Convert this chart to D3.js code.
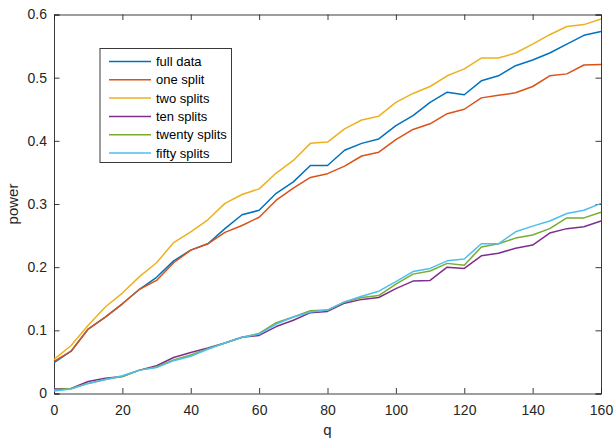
<!DOCTYPE html>
<html>
<head>
<meta charset="utf-8">
<script src="https://cdn.jsdelivr.net/npm/d3@7"></script>
<style>
  html, body { margin: 0; padding: 0; background: #fff; }
  svg { display: block; font-family: "Liberation Sans", Arial, Helvetica, sans-serif; }
</style>
</head>
<body>
<svg id="chart" width="615" height="441"></svg>
<script>
// Power as a function of q for different numbers of data splits
const q = d3.range(0, 161, 5);

const fullData     = [0.049, 0.067, 0.102, 0.121, 0.142, 0.165, 0.184, 0.210, 0.227, 0.237, 0.261, 0.283, 0.290, 0.317, 0.335, 0.361, 0.361, 0.385, 0.396, 0.403, 0.424, 0.440, 0.461, 0.477, 0.473, 0.495, 0.503, 0.519, 0.528, 0.539, 0.553, 0.567, 0.573];
const oneSplit     = [0.051, 0.067, 0.102, 0.121, 0.142, 0.165, 0.179, 0.207, 0.227, 0.237, 0.255, 0.266, 0.279, 0.306, 0.325, 0.342, 0.348, 0.360, 0.376, 0.382, 0.402, 0.418, 0.427, 0.443, 0.450, 0.468, 0.472, 0.476, 0.486, 0.503, 0.506, 0.520, 0.521];
const twoSplits    = [0.054, 0.076, 0.108, 0.137, 0.159, 0.185, 0.207, 0.239, 0.256, 0.275, 0.301, 0.315, 0.324, 0.349, 0.369, 0.396, 0.398, 0.419, 0.433, 0.439, 0.461, 0.475, 0.486, 0.503, 0.514, 0.531, 0.531, 0.539, 0.553, 0.568, 0.581, 0.584, 0.593];
const tenSplits    = [0.007, 0.008, 0.019, 0.024, 0.027, 0.037, 0.044, 0.057, 0.065, 0.072, 0.080, 0.089, 0.092, 0.106, 0.116, 0.128, 0.130, 0.143, 0.149, 0.152, 0.166, 0.178, 0.179, 0.200, 0.198, 0.218, 0.222, 0.230, 0.235, 0.254, 0.261, 0.264, 0.273];
const twentySplits = [0.006, 0.008, 0.016, 0.022, 0.027, 0.037, 0.042, 0.053, 0.061, 0.071, 0.080, 0.089, 0.095, 0.112, 0.121, 0.131, 0.132, 0.145, 0.152, 0.155, 0.173, 0.189, 0.194, 0.206, 0.203, 0.232, 0.237, 0.246, 0.251, 0.261, 0.278, 0.278, 0.287];
const fiftySplits  = [0.004, 0.007, 0.016, 0.022, 0.028, 0.037, 0.041, 0.052, 0.059, 0.070, 0.080, 0.089, 0.094, 0.110, 0.121, 0.129, 0.132, 0.145, 0.154, 0.162, 0.177, 0.193, 0.198, 0.210, 0.213, 0.237, 0.237, 0.256, 0.265, 0.273, 0.285, 0.290, 0.301];

const seriesNames = ["full data", "one split", "two splits", "ten splits", "twenty splits", "fifty splits"];
const seriesValues = [fullData, oneSplit, twoSplits, tenSplits, twentySplits, fiftySplits];
const seriesColors = ["#0072BD", "#D95319", "#EDB120", "#7E2F8E", "#77AC30", "#4DBEEE"];

const xTicks = [0, 20, 40, 60, 80, 100, 120, 140, 160];
const yTicks = [0, 0.1, 0.2, 0.3, 0.4, 0.5, 0.6];

const svg = d3.select("#chart");
const plot = { left: 54, right: 601, top: 14.5, bottom: 393.5 };
const axisColor = "#262626";

const x = d3.scaleLinear().domain([0, 160]).range([plot.left, plot.right]);
const y = d3.scaleLinear().domain([0, 0.6]).range([plot.bottom, plot.top]);

const tickLen = 5.5;

// Axes: bottom and left carry labels; top and right mirror the ticks (boxed axes)
const gx = svg.append("g").attr("transform", `translate(0,${plot.bottom})`)
  .call(d3.axisBottom(x).tickValues(xTicks).tickSize(-tickLen).tickPadding(11.5).tickFormat(d3.format("d")));
const gxTop = svg.append("g").attr("transform", `translate(0,${plot.top})`)
  .call(d3.axisTop(x).tickValues(xTicks).tickSize(-tickLen).tickFormat(""));
const gy = svg.append("g").attr("transform", `translate(${plot.left},0)`)
  .call(d3.axisLeft(y).tickValues(yTicks).tickSize(-tickLen).tickPadding(7).tickFormat(d => d === 0 ? "0" : d3.format(".1f")(d)));
const gyRight = svg.append("g").attr("transform", `translate(${plot.right},0)`)
  .call(d3.axisRight(y).tickValues(yTicks).tickSize(-tickLen).tickFormat(""));

[gx, gxTop, gy, gyRight].forEach(g => {
  g.select(".domain").attr("stroke", axisColor).attr("stroke-width", 0.9);
  g.selectAll(".tick line").attr("stroke", axisColor).attr("stroke-width", 0.9);
  g.selectAll(".tick text").attr("fill", axisColor).style("font-size", "14px")
    .style("font-family", "'Liberation Sans', Arial, Helvetica, sans-serif");
});

// Axis titles
svg.append("text")
  .attr("x", (plot.left + plot.right) / 2).attr("y", 435)
  .attr("text-anchor", "middle").attr("fill", axisColor)
  .style("font-size", "15px").text("q");
svg.append("text")
  .attr("transform", `translate(18,${(plot.top + plot.bottom) / 2}) rotate(-90)`)
  .attr("text-anchor", "middle").attr("fill", axisColor)
  .style("font-size", "15px").text("power");

// Lines
const line = d3.line().x((d, i) => x(q[i])).y(d => y(d));
const linesG = svg.append("g");
seriesValues.forEach((vals, k) => {
  linesG.append("path")
    .datum(vals)
    .attr("fill", "none")
    .attr("stroke", seriesColors[k])
    .attr("stroke-width", 1.5)
    .attr("stroke-linejoin", "round")
    .attr("d", line);
});

// Legend
const legend = { x: 100, y: 48.5, w: 131.5, h: 114, rowH: 18.3 };
const lg = svg.append("g");
lg.append("rect")
  .attr("x", legend.x).attr("y", legend.y)
  .attr("width", legend.w).attr("height", legend.h)
  .attr("fill", "#fff").attr("stroke", axisColor).attr("stroke-width", 0.9);
seriesNames.forEach((name, k) => {
  const cy = legend.y + 13 + k * legend.rowH;
  lg.append("line")
    .attr("x1", legend.x + 9).attr("x2", legend.x + 51)
    .attr("y1", cy).attr("y2", cy)
    .attr("stroke", seriesColors[k]).attr("stroke-width", 1.5);
  lg.append("text")
    .attr("x", legend.x + 56).attr("y", cy)
    .attr("dy", "0.35em").attr("fill", "#000")
    .style("font-size", "13px").text(name);
});
</script>
</body>
</html>
